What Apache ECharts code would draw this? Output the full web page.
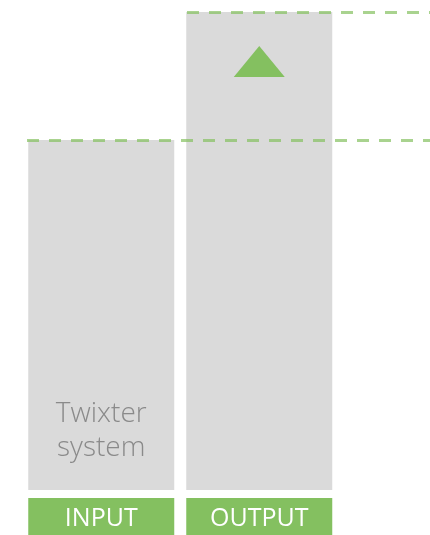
<!DOCTYPE html>
<html>
<head>
<meta charset="utf-8">
<script src="https://cdn.jsdelivr.net/npm/echarts@6/dist/echarts.min.js"></script>
<style>html,body{margin:0;padding:0;background:#fff}#c{width:430px;height:535px}</style>
</head>
<body>
<div id="c"></div>
<script>
var categories = ['INPUT', 'OUTPUT'];
var values = [100, 136.6];
var innerLabels = ['Twixter\nsystem', ''];

var chart = echarts.init(document.getElementById('c'));
var green = '#84c060';
chart.setOption({
  animation: false,
  grid: { left: 22.25, right: 91.75, top: 12, bottom: 45 },
  xAxis: {
    type: 'category',
    data: categories,
    axisLine: { show: false },
    axisTick: { show: false },
    axisLabel: {
      margin: 8,
      color: '#ffffff',
      fontFamily: 'Open Sans',
      fontSize: 25,
      backgroundColor: green,
      width: 146,
      height: 37,
      lineHeight: 42,
      align: 'center',
      verticalAlign: 'top'
    }
  },
  yAxis: {
    type: 'value',
    min: 0,
    max: values[1],
    show: false,
    splitLine: { show: false }
  },
  series: [{
    type: 'bar',
    barWidth: 146,
    data: values.map(function (v, i) {
      return {
        value: v,
        label: {
          show: innerLabels[i] !== '',
          position: 'insideBottom',
          distance: 25,
          formatter: innerLabels[i],
          color: '#8a8a8a',
          fontFamily: 'Open Sans',
          fontWeight: 300,
          fontSize: 28,
          lineHeight: 34
        }
      };
    }),
    itemStyle: { color: '#dadada' },
    markLine: {
      silent: true,
      symbol: 'none',
      label: { show: false },
      lineStyle: { color: green, opacity: 0.7, width: 3, type: [12, 10] },
      data: [
        [{ xAxis: categories[0], yAxis: values[0], x: 27 }, { xAxis: categories[0], yAxis: values[0], x: 430 }],
        [{ xAxis: categories[1], yAxis: values[1], x: 187 }, { xAxis: categories[1], yAxis: values[1], x: 430 }]
      ]
    },
    markPoint: {
      silent: true,
      symbol: 'triangle',
      symbolSize: [51, 31],
      symbolOffset: [0, 49.5],
      itemStyle: { color: green },
      label: { show: false },
      data: [{ coord: [categories[1], values[1]] }]
    }
  }]
});
</script>
</body>
</html>
